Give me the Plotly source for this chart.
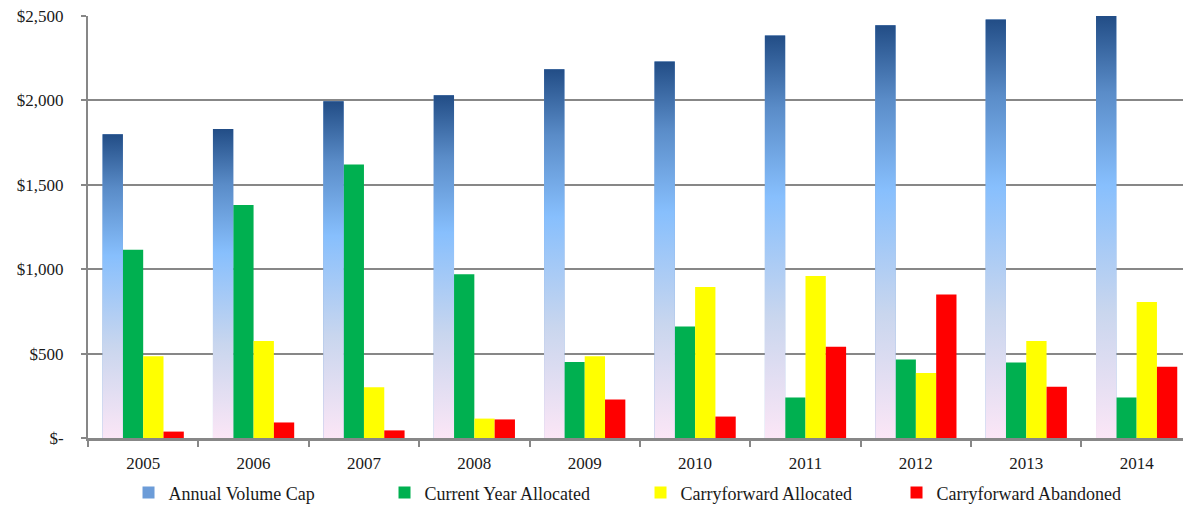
import plotly.graph_objects as go

# Private activity bond volume cap by year, in millions of dollars
years = ["2005", "2006", "2007", "2008", "2009", "2010", "2011", "2012", "2013", "2014"]
annual_volume_cap = [1800, 1830, 1995, 2030, 2185, 2230, 2385, 2445, 2480, 2500]
current_year_allocated = [1115, 1380, 1620, 970, 450, 660, 240, 465, 447, 240]
carryforward_allocated = [485, 575, 300, 115, 485, 895, 960, 385, 575, 805]
carryforward_abandoned = [38, 92, 45, 110, 228, 127, 540, 850, 303, 422]

y_tickvals = [0, 500, 1000, 1500, 2000, 2500]
y_ticktext = ["$-", "$500", "$1,000", "$1,500", "$2,000", "$2,500"]

BAR_W = 0.184            # width of one bar, in category units
X_RANGE = [-0.5, 9.42]   # last category runs slightly past the right edge
AXIS_GREY = "#878787"
FONT = "Liberation Serif"

# Vertical blue gradient used on the volume-cap bars (bottom -> top)
cap_gradient = [
    [0.0, "#fbe6f6"],
    [0.3, "#c9d6ee"],
    [0.6, "#87bffd"],
    [0.82, "#5a8cc8"],
    [1.0, "#224d86"],
]

fig = go.Figure()

series = [
    ("Annual Volume Cap", annual_volume_cap, "#6c9cd8", -2 * BAR_W),
    ("Current Year Allocated", current_year_allocated, "#00b050", -BAR_W),
    ("Carryforward Allocated", carryforward_allocated, "#ffff00", 0.0),
    ("Carryforward Abandoned", carryforward_abandoned, "#ff0000", BAR_W),
]
for name, vals, color, off in series:
    fig.add_trace(go.Bar(
        x=years,
        y=vals,
        name=name,
        offset=off,
        width=BAR_W,
        marker=dict(color=color, line=dict(width=0)),
        hoverinfo="skip",
    ))

# Gradient fill laid over each volume-cap bar, on an overlaid numeric axis
# sharing the same range, so every bar gets its own top-to-bottom shading.
for i, v in enumerate(annual_volume_cap):
    x0 = i - 2 * BAR_W
    x1 = i - BAR_W
    fig.add_trace(go.Scatter(
        x=[x0, x1, x1, x0, x0],
        y=[0, 0, v, v, 0],
        xaxis="x2",
        mode="lines",
        fill="toself",
        fillgradient=dict(type="vertical", colorscale=cap_gradient),
        line=dict(width=0),
        showlegend=False,
        hoverinfo="skip",
    ))

fig.update_layout(
    width=1183,
    height=512,
    margin=dict(l=88, r=0, t=16, b=74),
    paper_bgcolor="white",
    plot_bgcolor="white",
    barmode="overlay",
    font=dict(family=FONT, size=16, color="#1a1a1a"),
    xaxis=dict(
        type="category",
        categoryorder="array",
        categoryarray=years,
        range=X_RANGE,
        tickson="boundaries",
        ticks="outside",
        ticklen=6,
        tickwidth=2,
        tickcolor=AXIS_GREY,
        showline=True,
        linecolor=AXIS_GREY,
        linewidth=3,
        showgrid=False,
        ticklabelstandoff=8,
        tickfont=dict(family=FONT, size=17),
        fixedrange=True,
    ),
    xaxis2=dict(
        overlaying="x",
        anchor="y",
        range=X_RANGE,
        visible=False,
        fixedrange=True,
    ),
    yaxis=dict(
        range=[0, 2500],
        tickvals=y_tickvals,
        ticktext=y_ticktext,
        showgrid=True,
        gridcolor=AXIS_GREY,
        gridwidth=2,
        zeroline=False,
        showline=True,
        linecolor=AXIS_GREY,
        linewidth=2,
        ticks="outside",
        ticklen=5,
        tickwidth=2,
        tickcolor=AXIS_GREY,
        ticklabelstandoff=14,
        tickfont=dict(family=FONT, size=17),
        fixedrange=True,
    ),
    legend=dict(
        orientation="h",
        x=0.037,
        xanchor="left",
        y=-0.13,
        yanchor="middle",
        font=dict(family=FONT, size=18),
        entrywidth=211,
        entrywidthmode="pixels",
        itemclick=False,
        itemdoubleclick=False,
    ),
    showlegend=True,
)

fig.write_html("out.html")
